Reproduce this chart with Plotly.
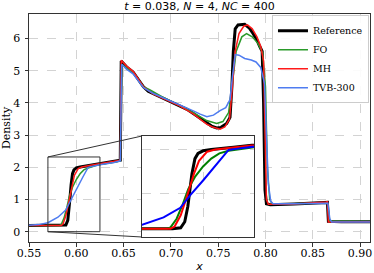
import plotly.graph_objects as go

# ---------------- data ----------------
x_ref = [0.55, 0.585, 0.589, 0.591, 0.5925, 0.5935, 0.5945, 0.596, 0.5975, 0.600, 0.604, 0.615, 0.625,
         0.640, 0.6465, 0.6475, 0.653, 0.660, 0.666, 0.671, 0.676, 0.681, 0.690, 0.6955, 0.703, 0.7096,
         0.717, 0.7237, 0.731, 0.7378, 0.743, 0.7484, 0.753, 0.759, 0.7625, 0.7645, 0.766, 0.768, 0.771,
         0.778, 0.783, 0.787, 0.791, 0.794, 0.7965, 0.798, 0.7995, 0.801, 0.805, 0.83, 0.85, 0.864,
         0.8655, 0.8665, 0.88, 0.92]
rho_ref = [0.19, 0.19, 0.21, 0.35, 0.70, 1.10, 1.45, 1.80, 1.92, 1.98, 2.01, 2.06, 2.11,
           2.17, 2.22, 5.30, 5.12, 4.96, 4.72, 4.50, 4.36, 4.29, 4.18, 4.09, 3.99, 3.90,
           3.80, 3.67, 3.52, 3.36, 3.28, 3.22, 3.24, 3.36, 3.55, 4.50, 5.60, 6.30, 6.42,
           6.44, 6.32, 6.15, 5.95, 5.75, 5.60, 4.00, 1.30, 0.87, 0.84, 0.86, 0.88, 0.91,
           0.91, 0.32, 0.31, 0.31]

x_fo = [0.55, 0.582, 0.584, 0.587, 0.590, 0.5927, 0.596, 0.600, 0.604, 0.608, 0.6125, 0.625, 0.640,
        0.6465, 0.648, 0.653, 0.660, 0.671, 0.678, 0.690, 0.7096, 0.7237, 0.7378, 0.7484, 0.755,
        0.761, 0.765, 0.769, 0.775, 0.780, 0.786, 0.792, 0.797, 0.800, 0.802, 0.8045, 0.807, 0.83,
        0.864, 0.8655, 0.868, 0.92]
rho_fo = [0.19, 0.19, 0.22, 0.42, 0.75, 1.10, 1.38, 1.62, 1.80, 1.92, 1.98, 2.09, 2.16,
          2.20, 5.20, 5.10, 4.95, 4.50, 4.40, 4.20, 3.92, 3.70, 3.45, 3.36, 3.42,
          3.70, 4.60, 5.60, 6.05, 6.15, 6.05, 5.85, 5.55, 4.50, 2.00, 1.00, 0.87, 0.87,
          0.90, 0.88, 0.33, 0.31]

x_mh = [0.55, 0.584, 0.586, 0.589, 0.5915, 0.5935, 0.5955, 0.598, 0.602, 0.606, 0.615, 0.625, 0.640,
        0.6465, 0.6475, 0.653, 0.660, 0.671, 0.681, 0.6955, 0.7096, 0.7237, 0.7378, 0.744, 0.752,
        0.757, 0.762, 0.765, 0.768, 0.772, 0.777, 0.781, 0.786, 0.791, 0.795, 0.798, 0.7995, 0.801,
        0.803, 0.83, 0.864, 0.8655, 0.8665, 0.92]
rho_mh = [0.19, 0.19, 0.24, 0.50, 0.85, 1.15, 1.45, 1.75, 1.96, 2.01, 2.06, 2.11, 2.17,
          2.22, 5.32, 5.15, 4.98, 4.50, 4.28, 4.08, 3.90, 3.66, 3.34, 3.25, 3.18,
          3.25, 3.50, 4.50, 5.60, 6.15, 6.38, 6.42, 6.30, 6.05, 5.75, 5.30, 3.00, 1.00,
          0.85, 0.86, 0.92, 0.93, 0.30, 0.31]

x_tvb = [0.55, 0.56, 0.57, 0.5806, 0.5888, 0.5937, 0.6002, 0.6068, 0.6125, 0.617, 0.625, 0.640,
         0.6465, 0.648, 0.653, 0.660, 0.671, 0.681, 0.6955, 0.7096, 0.7237, 0.731, 0.738, 0.745,
         0.752, 0.758, 0.7625, 0.765, 0.768, 0.772, 0.778, 0.785, 0.790, 0.795, 0.799, 0.801,
         0.803, 0.8055, 0.808, 0.83, 0.864, 0.866, 0.868, 0.870, 0.92]
rho_tvb = [0.20, 0.22, 0.28, 0.45, 0.67, 0.96, 1.31, 1.69, 2.00, 2.03, 2.08, 2.15,
           2.20, 5.20, 5.05, 4.90, 4.47, 4.30, 4.12, 3.95, 3.75, 3.65, 3.57, 3.62,
           3.76, 3.85, 4.10, 4.80, 5.50, 5.48, 5.38, 5.33, 5.27, 5.10, 4.60, 3.00,
           1.50, 0.95, 0.87, 0.87, 0.89, 0.88, 0.40, 0.30, 0.30]

series = [
    ("Reference", x_ref, rho_ref, "#000000", "#000000", 3.0),
    ("FO", x_fo, rho_fo, "#2a9a2a", "#008000", 1.5),
    ("MH", x_mh, rho_mh, "#ff1a1a", "#ff0000", 1.5),
    ("TVB-300", x_tvb, rho_tvb, "#4f7cf0", "#0000ff", 1.5),
]

x_ticks = [0.55, 0.60, 0.65, 0.70, 0.75, 0.80, 0.85, 0.90]
y_ticks = [0, 1, 2, 3, 4, 5, 6]

x_range = [0.55, 0.9105]
y_range = [-0.32, 6.76]
zoom_x = [0.57, 0.625]
zoom_y = [0.0, 2.32]

# ---------------- figure ----------------
fig = go.Figure()
for name, xs, ys, col, col_in, w in series:
    fig.add_trace(go.Scatter(x=xs, y=ys, mode="lines", name=name,
                             line=dict(color=col, width=w), xaxis="x", yaxis="y"))
for name, xs, ys, col, col_in, w in series:
    fig.add_trace(go.Scatter(x=xs, y=ys, mode="lines", name=name, showlegend=False,
                             line=dict(color=col_in, width=max(w, 2.0)), xaxis="x2", yaxis="y2"))

serif = "DejaVu Serif"
grid = dict(showgrid=True, gridcolor="#d3d3d3", griddash="dash", gridwidth=0.8,
            showline=True, mirror=True, linecolor="#333333", linewidth=1, zeroline=False)

ins_dom_x = [0.3314, 0.6598]
ins_dom_y = [0.0219, 0.4649]

fig.update_layout(
    width=374, height=273,
    margin=dict(l=29, r=4, t=14, b=31),
    paper_bgcolor="white", plot_bgcolor="white",
    font=dict(family=serif, size=11, color="#000000"),
    title=dict(text="<i>t</i> = 0.038, <i>N</i> = 4, <i>NC</i> = 400",
               font=dict(family="DejaVu Sans", size=11),
               x=0.5, xref="paper", xanchor="center",
               y=1 - 6 / 273, yref="container", yanchor="middle"),
    xaxis=dict(range=x_range, tickvals=x_ticks, ticktext=[f"{v:.2f}" for v in x_ticks],
               ticks="outside", ticklen=3.5, tickcolor="#333333", automargin=False,
               ticklabelstandoff=-3,
               title=dict(text="<i>x</i>", font=dict(family="DejaVu Sans", size=11)),
               **grid),
    yaxis=dict(range=y_range, tickvals=y_ticks, ticks="outside", ticklen=3.5, tickcolor="#333333",
               automargin=False, ticklabelstandoff=2,
               title=dict(text="Density", font=dict(family=serif, size=11)),
               **grid),
    xaxis2=dict(domain=ins_dom_x, anchor="y2", range=zoom_x, tickvals=[0.6],
                showticklabels=False, ticks="", automargin=False, **grid),
    yaxis2=dict(domain=ins_dom_y, anchor="x2", range=zoom_y, tickvals=[1, 2],
                showticklabels=False, ticks="", automargin=False, **grid),
    legend=dict(x=0.997, y=0.995, xanchor="right", yanchor="top",
                bgcolor="rgba(255,255,255,0.9)", bordercolor="#cccccc", borderwidth=1,
                font=dict(family=serif, size=9.5), tracegroupgap=0, itemwidth=30),
    showlegend=True,
)

# zoom rectangle in the main axes
fig.add_shape(type="rect", xref="x", yref="y", x0=zoom_x[0], x1=zoom_x[1], y0=zoom_y[0], y1=zoom_y[1],
              line=dict(color="#333333", width=1), layer="above")

# connector lines (data -> paper coordinates through the main axis ranges)
def px(v):
    return (v - x_range[0]) / (x_range[1] - x_range[0])

def py(v):
    return (v - y_range[0]) / (y_range[1] - y_range[0])

fig.add_shape(type="line", xref="paper", yref="paper", x0=px(zoom_x[0]), y0=py(zoom_y[1]),
              x1=ins_dom_x[0], y1=ins_dom_y[1], line=dict(color="#333333", width=1), layer="above")
fig.add_shape(type="line", xref="paper", yref="paper", x0=px(zoom_x[0]), y0=py(zoom_y[0]),
              x1=ins_dom_x[0], y1=ins_dom_y[0], line=dict(color="#333333", width=1), layer="above")

fig.write_html("out.html",
               config={"displayModeBar": False},
               post_script="document.body.style.margin='0px';document.body.style.padding='0px';")
